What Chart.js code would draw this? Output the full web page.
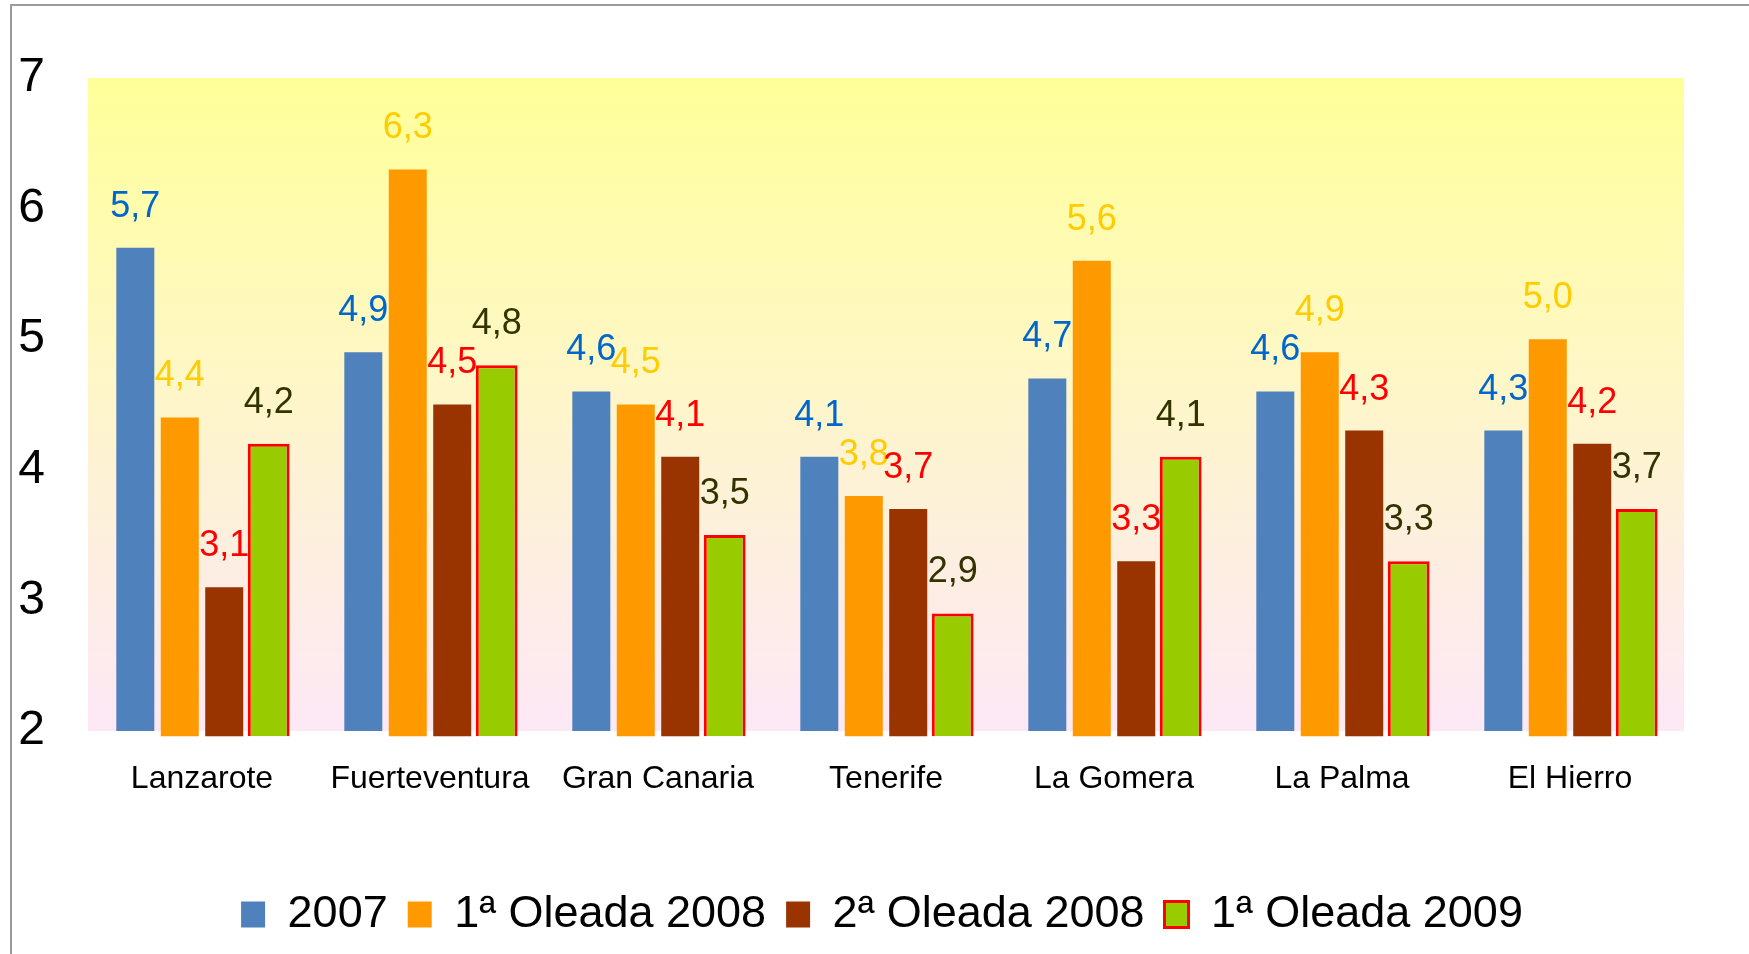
<!DOCTYPE html>
<html>
<head>
<meta charset="utf-8">
<script src="https://cdn.jsdelivr.net/npm/chart.js@4/dist/chart.umd.min.js"></script>
<style>
  body { margin: 0; background: #fff; }
  #chart { display: block; }
</style>
</head>
<body>
<canvas id="chart" width="1749" height="954"></canvas>
<script>
const islands = ["Lanzarote", "Fuerteventura", "Gran Canaria", "Tenerife", "La Gomera", "La Palma", "El Hierro"];
const serie2007 = [5.7, 4.9, 4.6, 4.1, 4.7, 4.6, 4.3];
const oleada1_2008 = [4.4, 6.3, 4.5, 3.8, 5.6, 4.9, 5.0];
const oleada2_2008 = [3.1, 4.5, 4.1, 3.7, 3.3, 4.3, 4.2];
const oleada1_2009 = [4.2, 4.8, 3.5, 2.9, 4.1, 3.3, 3.7];
const yTicks = [2, 3, 4, 5, 6, 7];

const FONT = "'Liberation Sans', Arial, sans-serif";

// fondo degradado del area del grafico + marco gris
const backdrop = {
    id: 'backdrop',
    afterLayout(chart) {
        // la leyenda del original esta algo desplazada a la derecha
        chart.legend.left = 80;
    },
    beforeDraw(chart) {
        const ctx = chart.ctx;
        const a = chart.chartArea;
        ctx.save();
        ctx.strokeStyle = '#9a9a9a';
        ctx.lineWidth = 2;
        ctx.beginPath();
        ctx.moveTo(11, chart.height);
        ctx.lineTo(11, 5);
        ctx.lineTo(chart.width, 5);
        ctx.stroke();
        const g = ctx.createLinearGradient(0, a.top, 0, a.bottom);
        g.addColorStop(0, '#FFFF99');
        g.addColorStop(0.45, '#FEF7C6');
        g.addColorStop(0.75, '#FDEEE2');
        g.addColorStop(1, '#FDE8F6');
        ctx.fillStyle = g;
        ctx.fillRect(a.left, a.top, a.right - a.left, a.bottom - a.top);
        ctx.restore();
    }
};

// etiquetas de valor encima de cada barra
const valueLabels = {
    id: 'valueLabels',
    afterDatasetsDraw(chart) {
        const ctx = chart.ctx;
        ctx.save();
        ctx.font = '36px ' + FONT;
        ctx.textAlign = 'center';
        ctx.textBaseline = 'middle';
        chart.data.datasets.forEach((ds, i) => {
            const meta = chart.getDatasetMeta(i);
            ctx.fillStyle = ds.labelColor;
            meta.data.forEach((bar, j) => {
                ctx.fillText(ds.data[j].toFixed(1).replace('.', ','), bar.x, bar.y - 41);
            });
        });
        ctx.restore();
    }
};

new Chart(document.getElementById('chart'), {
    type: 'bar',
    data: {
        labels: islands,
        datasets: [{
            label: '2007',
            data: serie2007,
            backgroundColor: '#4F81BD',
            labelColor: '#0066CC',
            barPercentage: 0.855
        }, {
            label: '1ª Oleada 2008',
            data: oleada1_2008,
            backgroundColor: '#FF9900',
            labelColor: '#FFCC00',
            barPercentage: 0.855,
            base: 1.96,
            clip: false
        }, {
            label: '2ª Oleada 2008',
            data: oleada2_2008,
            backgroundColor: '#993300',
            labelColor: '#FF0000',
            barPercentage: 0.855,
            base: 1.96,
            clip: false
        }, {
            label: '1ª Oleada 2009',
            data: oleada1_2009,
            backgroundColor: '#99CC00',
            borderColor: '#FF0000',
            borderWidth: 3,
            labelColor: '#333300',
            barPercentage: 0.94,
            base: 1.96,
            clip: false
        }]
    },
    options: {
        responsive: false,
        animation: false,
        devicePixelRatio: 1,
        layout: { padding: { top: 78, right: 65, bottom: 7, left: 0 } },
        datasets: { bar: { categoryPercentage: 0.78 } },
        scales: {
            x: {
                grid: { display: false, drawTicks: false },
                border: { display: false },
                ticks: { color: '#000', font: { family: FONT, size: 32 }, padding: 29 },
                afterFit(scale) { scale.height = 141; }
            },
            y: {
                min: 2,
                max: 7,
                afterBuildTicks(scale) { scale.ticks = yTicks.map(v => ({ value: v })); },
                grid: { display: false, drawTicks: false },
                border: { display: false },
                ticks: { color: '#000', font: { family: FONT, size: 48 }, padding: 43 },
                afterFit(scale) { scale.width = 88; }
            }
        },
        plugins: {
            legend: {
                position: 'bottom',
                labels: {
                    color: '#000',
                    font: { family: FONT, size: 45 },
                    boxWidth: 24,
                    boxHeight: 26,
                    padding: 20
                }
            },
            tooltip: { enabled: false }
        }
    },
    plugins: [backdrop, valueLabels]
});
</script>
</body>
</html>
